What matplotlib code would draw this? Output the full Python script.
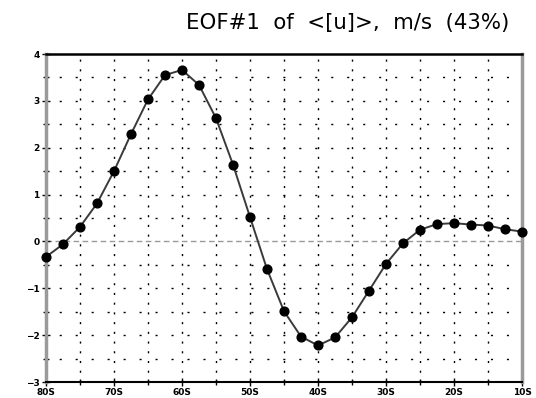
import numpy as np
import matplotlib
matplotlib.use("Agg")
import matplotlib.pyplot as plt
from matplotlib.ticker import MultipleLocator, FixedLocator

# Latitudes (degrees, negative = south) and EOF#1 loadings of <[u]> in m/s
latitudes = [-80, -77.5, -75, -72.5, -70, -67.5, -65, -62.5, -60, -57.5,
             -55, -52.5, -50, -47.5, -45, -42.5, -40, -37.5, -35, -32.5,
             -30, -27.5, -25, -22.5, -20, -17.5, -15, -12.5, -10]
eof1 = [-0.33, -0.06, 0.31, 0.81, 1.50, 2.29, 3.03, 3.55, 3.66, 3.34,
        2.63, 1.64, 0.52, -0.59, -1.49, -2.03, -2.22, -2.05, -1.62, -1.05,
        -0.48, -0.04, 0.25, 0.37, 0.39, 0.36, 0.34, 0.26, 0.21]

xtick_values = [-80, -70, -60, -50, -40, -30, -20, -10]
xtick_labels = ["80S", "70S", "60S", "50S", "40S", "30S", "20S", "10S"]
ytick_values = [-3, -2, -1, 0, 1, 2, 3, 4]
ytick_labels = ["\u22123", "\u22122", "\u22121", "0", "1", "2", "3", "4"]

fig = plt.figure(figsize=(5.36, 3.98), dpi=100)
ax = fig.add_axes([0.0858, 0.0402, 0.8881, 0.8241])

ax.set_xlim(-80, -10)
ax.set_ylim(-3, 4)

# dotted grid every 5 degrees and every 0.5 m/s
for gx in np.arange(-75, -10, 5):
    ax.axvline(gx, color="black", lw=1.0, linestyle=(0, (1.5, 5.5)), zorder=1)
for gy in np.arange(-2.5, 4.0, 0.5):
    if abs(gy) < 1e-9:
        continue
    ax.axhline(gy, color="black", lw=1.0, linestyle=(2, (1.5, 10)), zorder=1)

# zero reference line
ax.axhline(0, color="#9a9a9a", lw=1.0, linestyle=(0, (4, 2.5)), zorder=1.5)

ax.plot(latitudes, eof1, color="#3a3a3a", lw=1.4, marker="o",
        markersize=6.3, markerfacecolor="black", markeredgecolor="black",
        zorder=3, clip_on=False)

ax.xaxis.set_major_locator(FixedLocator(xtick_values))
ax.set_xticklabels(xtick_labels)
ax.xaxis.set_minor_locator(MultipleLocator(5))
ax.yaxis.set_major_locator(FixedLocator(ytick_values))
ax.set_yticklabels(ytick_labels)
ax.yaxis.set_minor_locator(MultipleLocator(0.5))

ax.tick_params(axis="both", which="major", direction="inout", length=6,
               width=1.0, labelsize=6.5, pad=1.5, colors="black")
ax.tick_params(axis="both", which="minor", direction="inout", length=5,
               width=1.0)
for lab in ax.get_xticklabels() + ax.get_yticklabels():
    lab.set_fontweight("bold")

ax.spines["top"].set_linewidth(1.8)
ax.spines["top"].set_color("black")
ax.spines["bottom"].set_linewidth(1.5)
ax.spines["bottom"].set_color("black")
ax.spines["left"].set_linewidth(2.5)
ax.spines["left"].set_color("#9a9a9a")
ax.spines["right"].set_linewidth(2.5)
ax.spines["right"].set_color("#9a9a9a")

fig.text(0.648, 0.942, "EOF#1  of  <[u]>,  m/s  (43%)", ha="center",
         va="center", fontsize=15.3, color="black")

fig.savefig("out.png", dpi=100)
